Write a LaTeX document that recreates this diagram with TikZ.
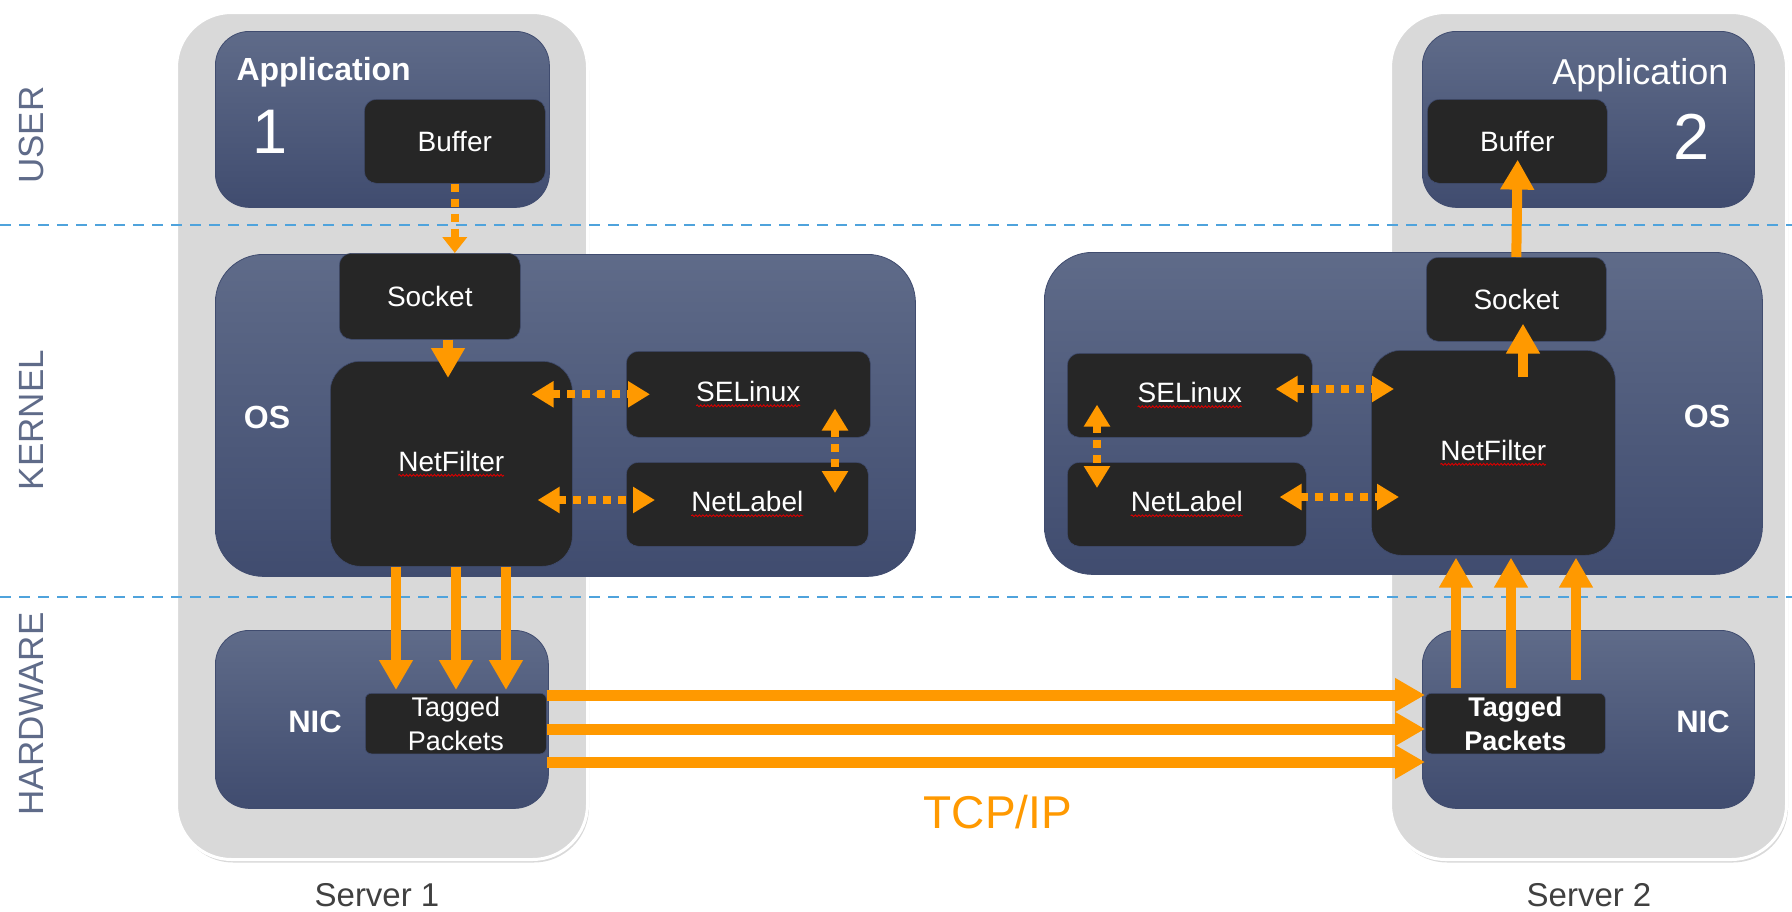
\documentclass[tikz,border=0pt]{standalone}
\usepackage{fontspec}
\setmainfont{Liberation Sans}
\usetikzlibrary{arrows.meta,positioning,calc,shadows,decorations.pathmorphing}

\definecolor{slate}{HTML}{5F6B89}
\definecolor{slatedark}{HTML}{404C6F}
\definecolor{boxdark}{HTML}{262626}
\definecolor{srvgray}{HTML}{D9D9D9}
\definecolor{pktorange}{HTML}{FF9900}
\definecolor{layerblue}{HTML}{4FA3DC}
\definecolor{captgray}{HTML}{404040}
\newcommand{\pxfont}[1]{\fontsize{#1}{#1}\selectfont}
\newcommand{\spellerr}[1]{\tikz[baseline=(w.base), x=1cm, y=1cm]{%
    \node[inner sep=0pt, outer sep=0pt, minimum size=0pt, sharp corners, draw=none, fill=none] (w) {#1};
    \draw[sharp corners, red!85!black, line width=0.9pt, decorate,
        decoration={snake, amplitude=0.9pt, segment length=3.5pt}]
        ([yshift=-4pt]w.base west) -- ([yshift=-4pt]w.base east);}}

\begin{document}
\begin{tikzpicture}[
    x=1pt, y=-1pt,
    server/.style={rectangle, anchor=north west, rounded corners=55pt, fill=srvgray, draw=white, line width=3pt,
        drop shadow={shadow xshift=1.5pt, shadow yshift=-3pt, opacity=0.3}},
    layer/.style={rectangle, anchor=north west, rounded corners=38pt, top color=slate, bottom color=slatedark,
        draw=slatedark, line width=0.8pt},
    block/.style={rectangle, anchor=north west, rounded corners=12pt, fill=boxdark, draw=slatedark,
        line width=0.6pt, text=white, font=\pxfont{28}},
    sidelabel/.style={rotate=90, text=slate, font=\pxfont{35}},
    boxlabel/.style={text=white, font=\pxfont{32}\bfseries},
    flow/.style={-{Triangle[length=30pt,width=32pt]}, draw=pktorange, line width=10pt},
    dotflow/.style={-{Triangle[length=16pt,width=24pt]}, draw=pktorange, line width=8pt, dash pattern=on 8pt off 7pt},
    dotpair/.style={dotflow, {Triangle[length=22pt,width=25pt]}-{Triangle[length=22pt,width=25pt]}},
    boundary/.style={draw=layerblue, line width=2.5pt, dash pattern=on 11pt off 8pt}
]
\useasboundingbox (0,0) rectangle (1792,911);

% Servers
\node[server, minimum width=411pt, minimum height=847pt] (srv1) at (175,11) {};
\node[server, minimum width=396pt, minimum height=847pt] (srv2) at (1389,11) {};
\node[text=captgray, font=\pxfont{33}] (cap1) at (377,895) {Server 1};
\node[text=captgray, font=\pxfont{33}] (cap2) at (1589,895) {Server 2};

% Layer boundaries
\draw[boundary] (0,225) -- (1792,225);
\draw[boundary] (0,597) -- (1792,597);
\node[sidelabel] (user) at (31,135) {USER};
\node[sidelabel] (kernel) at (31,420) {KERNEL};
\node[sidelabel] (hw) at (31,714) {HARDWARE};

% Server 1
\node[layer, minimum width=334pt, minimum height=176pt, rounded corners=34pt] (app1) at (215,31) {};
\node[layer, minimum width=700pt, minimum height=322pt, rounded corners=48pt] (os1) at (215,254) {};
\node[layer, minimum width=333pt, minimum height=178pt, rounded corners=34pt] (nic1) at (215,630) {};
\node[boxlabel, anchor=west] (app1txt) at (233,72) {Application};
\node[text=white, font=\pxfont{63}] (app1num) at (270,132) {1};
\node[boxlabel] (os1txt) at (267,417) {OS};
\node[boxlabel, font=\pxfont{31}\bfseries] (nic1txt) at (315,722) {NIC};
\node[block, minimum width=181pt, minimum height=84pt] (buf1) at (364,99) {Buffer};
\node[block, minimum width=181pt, minimum height=86pt] (sock1) at (339,253) {Socket};
\node[block, minimum width=242pt, minimum height=205pt, rounded corners=30pt] (nf1) at (330,361) {\spellerr{NetFilter}};
\node[block, minimum width=244pt, minimum height=86pt] (sel1) at (626,351) {\spellerr{SELinux}};
\node[block, minimum width=242pt, minimum height=84pt] (nl1) at (626,462) {\spellerr{NetLabel}};
\node[block, minimum width=181pt, minimum height=54pt, rounded corners=6pt, align=center,
    font=\fontsize{27}{34}\selectfont] (tp1) at (365,693) {Tagged\\Packets};

% Server 2
\node[layer, minimum width=332pt, minimum height=176pt, rounded corners=34pt] (app2) at (1422,31) {};
\node[layer, minimum width=718pt, minimum height=322pt, rounded corners=48pt] (os2) at (1044,252) {};
\node[layer, minimum width=332pt, minimum height=178pt, rounded corners=34pt] (nic2) at (1422,630) {};
\node[text=white, font=\pxfont{36}, anchor=east] (app2txt) at (1732,75) {Application};
\node[text=white, font=\pxfont{65}] (app2num) at (1692,137) {2};
\node[boxlabel] (os2txt) at (1707,416) {OS};
\node[boxlabel, font=\pxfont{31}\bfseries] (nic2txt) at (1703,722) {NIC};
\node[block, minimum width=180pt, minimum height=84pt] (buf2) at (1427,99) {Buffer};
\node[block, minimum width=180pt, minimum height=84pt] (sock2) at (1426,257) {Socket};
\node[block, minimum width=244pt, minimum height=205pt, rounded corners=30pt] (nf2) at (1371,350) {\spellerr{NetFilter}};
\node[block, minimum width=245pt, minimum height=84pt] (sel2) at (1067,353) {\spellerr{SELinux}};
\node[block, minimum width=239pt, minimum height=84pt] (nl2) at (1067,462) {\spellerr{NetLabel}};
\node[block, minimum width=180pt, minimum height=54pt, rounded corners=6pt, align=center,
    font=\fontsize{27}{34}\selectfont\bfseries] (tp2) at (1425,693) {Tagged\\Packets};

\node[text=pktorange, font=\pxfont{46}] (tcp) at (998,812) {TCP/IP};

% Arrow positions
\coordinate (s1x) at (448,0);
\coordinate (s2x) at (1523,0);
\coordinate (d1) at (396,0);
\coordinate (d2) at (456,0);
\coordinate (d3) at (506,0);
\coordinate (u1) at (1456,0);
\coordinate (u2) at (1511,0);
\coordinate (u3) at (1576,0);
\coordinate (h1) at (0,695);
\coordinate (h2) at (0,729);
\coordinate (h3) at (0,762);
\coordinate (v1) at (835,0);
\coordinate (v2) at (1097,0);
\coordinate (r1) at (0,389);
\coordinate (r2) at (0,497);
\coordinate (l2) at (0,500);

% Sending side
\draw[dotflow] (buf1.south) -- (sock1.north -| buf1.south);
\draw[flow, shorten >=-17pt] (sock1.south -| s1x) -- (nf1.north -| s1x);
\draw[dotpair, shorten <=-41pt, shorten >=-24pt] (nf1.east |- sel1.west) -- (sel1.west);
\draw[dotpair, shorten <=-35pt, shorten >=-29pt] (nf1.east |- l2) -- (nl1.west |- l2);
\draw[dotpair, shorten <=-29pt, shorten >=-31pt] (sel1.south -| v1) -- (nl1.north -| v1);
\foreach \d in {d1,d2,d3}
    \draw[flow, shorten >=3pt] (nf1.south -| \d) -- (tp1.north -| \d);

% Wire
\foreach \h in {h1,h2,h3}
    \draw[flow, line width=11pt] (tp1.east |- \h) -- (tp2.west |- \h);

% Receiving side
\draw[flow, shorten <=5pt, shorten >=2pt] (tp2.north -| u1) -- (nf2.south -| u1);
\draw[flow, shorten <=5pt, shorten >=2pt] (tp2.north -| u2) -- (nf2.south -| u2);
\draw[flow, shorten <=13pt, shorten >=2pt] (tp2.north -| u3) -- (nf2.south -| u3);
\draw[dotpair, shorten <=-37pt, shorten >=-23pt] (sel2.east |- r1) -- (nf2.west |- r1);
\draw[dotpair, shorten <=-27pt, shorten >=-28pt] (nl2.east |- r2) -- (nf2.west |- r2);
\draw[dotpair, shorten <=-33pt, shorten >=-26pt] (sel2.south -| v2) -- (nl2.north -| v2);
\draw[flow, shorten <=27pt, shorten >=-18pt] (nf2.north -| s2x) -- (sock2.south -| s2x);
\draw[flow, shorten >=-24pt] (sock2.north) -- (buf2.south);

\end{tikzpicture}
\end{document}
